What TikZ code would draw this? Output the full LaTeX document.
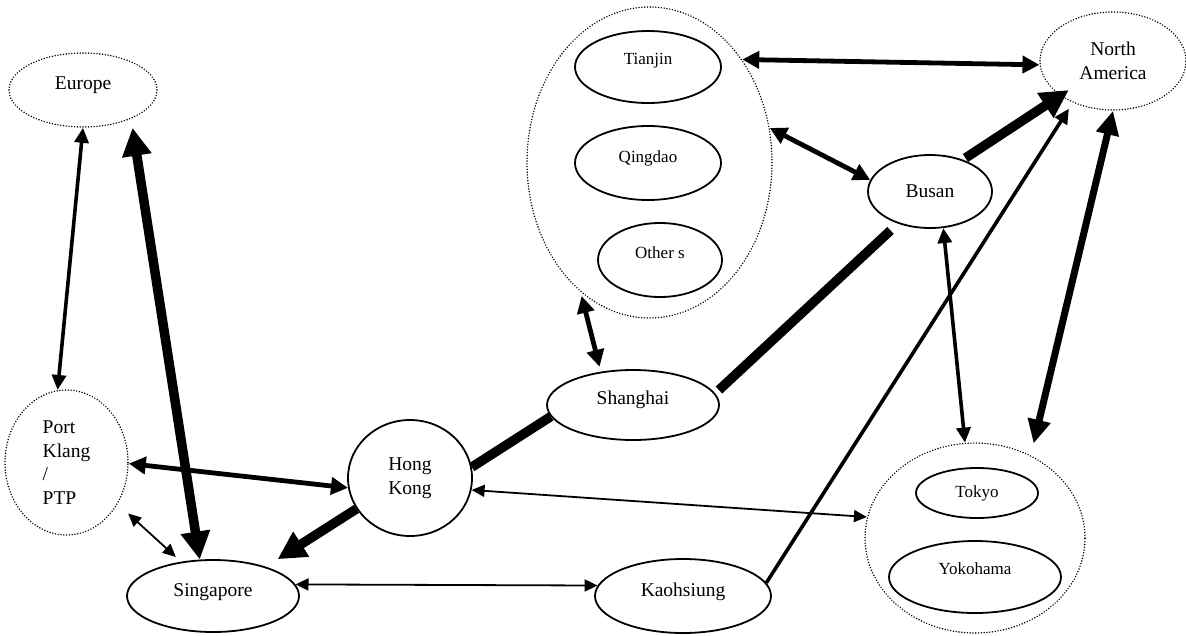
\documentclass[tikz,border=0pt]{standalone}
\usepackage{fontspec}
\setmainfont{Liberation Serif}
\usetikzlibrary{shapes.geometric,arrows.meta}

\newcommand\txtup[2]{\raisebox{#1}[\height][\depth]{#2}}

\tikzset{
  port/.style={ellipse, draw, line width=1.8pt, inner sep=0pt,
    font=\fontsize{19.5}{23.5}\selectfont},
  subport/.style={port, font=\fontsize{17}{20}\selectfont},
  region/.style={ellipse, draw, line width=1.6pt, line cap=round,
    dash pattern=on 0pt off 2.8pt, inner sep=0pt,
    font=\fontsize{19.5}{23.5}\selectfont},
  thinflow/.style={line width=1.8pt, >={Triangle[length=13pt,width=12pt]}},
  medflow/.style={line width=3.6pt, >={Triangle[length=15pt,width=14pt]}},
  boldflow/.style={line width=4.8pt, >={Triangle[length=17pt,width=17pt]}},
  heavyflow/.style={line width=7pt, >={Triangle[length=24pt,width=22pt]}},
  hugeflow/.style={line width=9.5pt, >={Triangle[length=28pt,width=28pt]}},
}

\begin{document}
\begin{tikzpicture}[x=1pt,y=-1pt]
\useasboundingbox (0,0) rectangle (1186,635);

% regions and port groups
\node[region, minimum width=148pt, minimum height=74pt] (eu) at (83,90) {\txtup{5pt}{Europe}};
\node[region, minimum width=123pt, minimum height=145pt, align=left] (pk) at (66.5,462.5)
  {Port\\Klang\\/\\PTP};
\node[region, minimum width=245pt, minimum height=311pt] (cn) at (649.5,162.5) {};
\node[region, minimum width=146pt, minimum height=98pt, align=center] (na) at (1113,61)
  {North\\America};
\node[region, minimum width=220pt, minimum height=190pt] (jp) at (975,538) {};

% ports
\node[subport, minimum width=146pt, minimum height=72pt] (tj) at (648,67) {\txtup{6pt}{Tianjin}};
\node[subport, minimum width=146pt, minimum height=74pt] (qd) at (648,163) {\txtup{5pt}{Qingdao}};
\node[subport, minimum width=124pt, minimum height=74pt] (ot) at (660,260) {\txtup{7pt}{Other s}};
\node[subport, minimum width=122pt, minimum height=50pt] (tk) at (977,493) {Tokyo};
\node[subport, minimum width=172pt, minimum height=72pt] (yk) at (975,577) {\txtup{8pt}{Yokohama}};

\node[port, minimum width=172pt, minimum height=72pt] (sg) at (213,596) {\txtup{4pt}{Singapore}};
\node[port, minimum width=124pt, minimum height=116pt, align=center] (hk) at (410,478) {Hong\\Kong};
\node[port, minimum width=172pt, minimum height=70pt] (sh) at (633,405) {\txtup{5pt}{Shanghai}};
\node[port, minimum width=176pt, minimum height=74pt] (ka) at (683,596) {\txtup{4pt}{Kaohsiung}};
\node[port, minimum width=124pt, minimum height=73pt] (bu) at (930,191.5) {Busan};

% flows
\draw[medflow, <->] (eu.south) -- (pk.97);
\draw[hugeflow, <->, shorten <=9pt] (eu.-31) -- (sg.110);
\draw[boldflow, <->] (pk.-1) -- (hk.189);
\draw[thinflow, <->, shorten <=14pt, shorten >=7pt] (pk.-39) -- (sg.133);
\draw[hugeflow, ->, shorten >=14pt] (hk.210) -- (sg.29);
\draw[hugeflow] (hk.10) -- (sh.188);
\draw[hugeflow, shorten <=5pt, shorten >=10pt] (sh.8) -- (bu.225);
\draw[boldflow, <->, shorten <=5pt, shorten >=4pt] (sh.134) -- (cn.242);
\draw[thinflow, <->] (hk.-11) -- (jp.169);
\draw[thinflow, <->] (sg.8) -- (ka.173);
\draw[medflow, ->, shorten >=7pt] (ka.9) -- (na.226);
\draw[boldflow, <->] (cn.48) -- (na.183);
\draw[boldflow, <->] (cn.16) -- (bu.169);
\draw[hugeflow, ->, shorten <=3pt, shorten >=53pt] (bu.44) -- (na.center);
\draw[medflow, <->] (bu.-70) -- (jp.96);
\draw[heavyflow, <->, shorten >=12pt] (na.south) -- (jp.56);
\end{tikzpicture}
\end{document}
